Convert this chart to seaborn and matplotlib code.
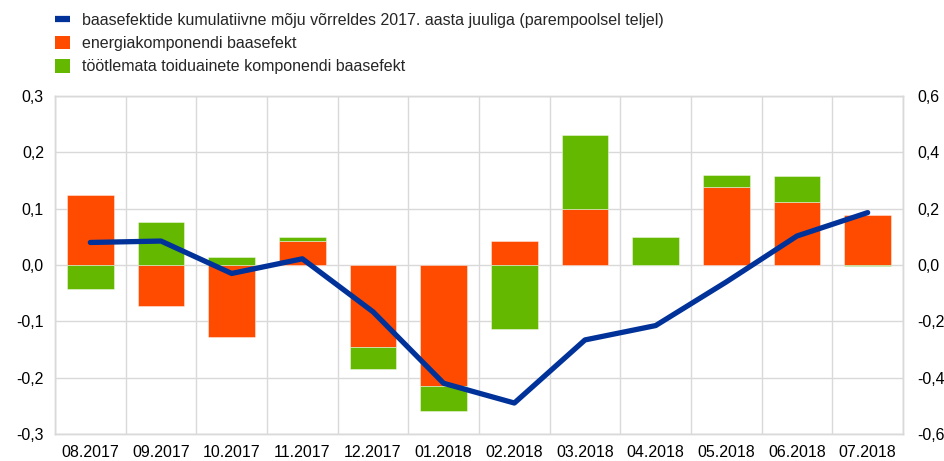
import numpy as np
import pandas as pd
import matplotlib
matplotlib.use("Agg")
import matplotlib.pyplot as plt
from matplotlib.lines import Line2D
from matplotlib.patches import Patch
from matplotlib.ticker import FixedLocator, FuncFormatter
import seaborn as sns

months = ["08.2017", "09.2017", "10.2017", "11.2017", "12.2017", "01.2018",
          "02.2018", "03.2018", "04.2018", "05.2018", "06.2018", "07.2018"]
energy = [0.125, -0.073, -0.127, 0.042, -0.145, -0.215,
          0.042, 0.099, 0.000, 0.138, 0.111, 0.088]
food = [-0.043, 0.076, 0.015, 0.008, -0.040, -0.044,
        -0.114, 0.131, 0.050, 0.022, 0.047, -0.002]
cumulative = [0.08, 0.085, -0.030, 0.022, -0.166, -0.42,
              -0.49, -0.266, -0.215, -0.06, 0.103, 0.186]

label_line = "baasefektide kumulatiivne mõju võrreldes 2017. aasta juuliga (parempoolsel teljel)"
label_energy = "energiakomponendi baasefekt"
label_food = "töötlemata toiduainete komponendi baasefekt"

c_energy = "#FF4B00"
c_food = "#65B800"
c_line = "#003299"
c_grid = "#D9D9D9"
fs = 11.5

sns.set_theme(style="white")
plt.rcParams["font.family"] = ["Liberation Sans", "DejaVu Sans"]
plt.rcParams["font.size"] = fs

df = pd.DataFrame({"month": months, "energy": energy, "food": food,
                   "cumulative": cumulative})
# food segment stacks on the energy segment when both share a sign
df["food_bottom"] = np.where(np.sign(df["food"]) == np.sign(df["energy"]),
                             df["energy"], 0.0)

fig = plt.figure(figsize=(9.45, 4.61), dpi=100)
ax = fig.add_axes([55 / 945, 1 - 434 / 461, (903 - 55) / 945, (434 - 96) / 461])

sns.barplot(data=df, x="month", y="energy", color=c_energy, width=0.665,
            saturation=1, edgecolor=(1, 1, 1, 0.5), linewidth=0.6, ax=ax,
            zorder=3)
sns.barplot(data=df, x="month", y="food", color=c_food, width=0.665,
            saturation=1, edgecolor=(1, 1, 1, 0.5), linewidth=0.6, ax=ax,
            bottom=df["food_bottom"].to_numpy(), zorder=3)

ax.set_xlim(-0.5, len(months) - 0.5)
ax.set_ylim(-0.3, 0.3)
ax.set_yticks(np.arange(-0.3, 0.31, 0.1))
fmt1 = FuncFormatter(lambda v, p: f"{v:.1f}".replace(".", ",").replace("-0,0", "0,0"))
ax.yaxis.set_major_formatter(fmt1)
ax.xaxis.set_minor_locator(FixedLocator(np.arange(-0.5, len(months), 1.0)))
ax.grid(axis="y", which="major", color=c_grid, lw=1.0, zorder=0)
ax.grid(axis="x", which="minor", color=c_grid, lw=1.0, zorder=0)
ax.grid(axis="x", which="major", visible=False)
ax.set_axisbelow(True)
ax.set_xlabel("")
ax.set_ylabel("")
ax.tick_params(axis="both", which="both", length=0, labelsize=fs,
               colors="#000000")
ax.tick_params(axis="x", pad=8)
ax.tick_params(axis="y", pad=8)
for s in ax.spines.values():
    s.set_color(c_grid)
    s.set_linewidth(1.0)

ax2 = ax.twinx()
sns.lineplot(x=np.arange(len(months)), y=df["cumulative"], color=c_line,
             lw=3.8, ax=ax2, solid_capstyle="round", zorder=4)
ax2.set_ylim(-0.6, 0.6)
ax2.set_yticks(np.arange(-0.6, 0.61, 0.2))
ax2.yaxis.set_major_formatter(fmt1)
ax2.set_ylabel("")
ax2.tick_params(axis="y", length=0, labelsize=fs, pad=10, colors="#000000")
for s in ax2.spines.values():
    s.set_color(c_grid)
    s.set_linewidth(1.0)
ax2.set_xlim(-0.5, len(months) - 0.5)

handles = [Line2D([0], [0], color=c_line, lw=4.5, solid_capstyle="butt"),
           Patch(facecolor=c_energy, edgecolor="none"),
           Patch(facecolor=c_food, edgecolor="none")]
fig.legend(handles, [label_line, label_energy, label_food],
           loc="upper left", bbox_to_anchor=(55 / 945, 1 - 13 / 461),
           frameon=False, fontsize=fs, handlelength=0.95, handleheight=0.9,
           handletextpad=0.75, labelspacing=0.5, borderaxespad=0,
           borderpad=0)

fig.savefig("out.png", dpi=100)
